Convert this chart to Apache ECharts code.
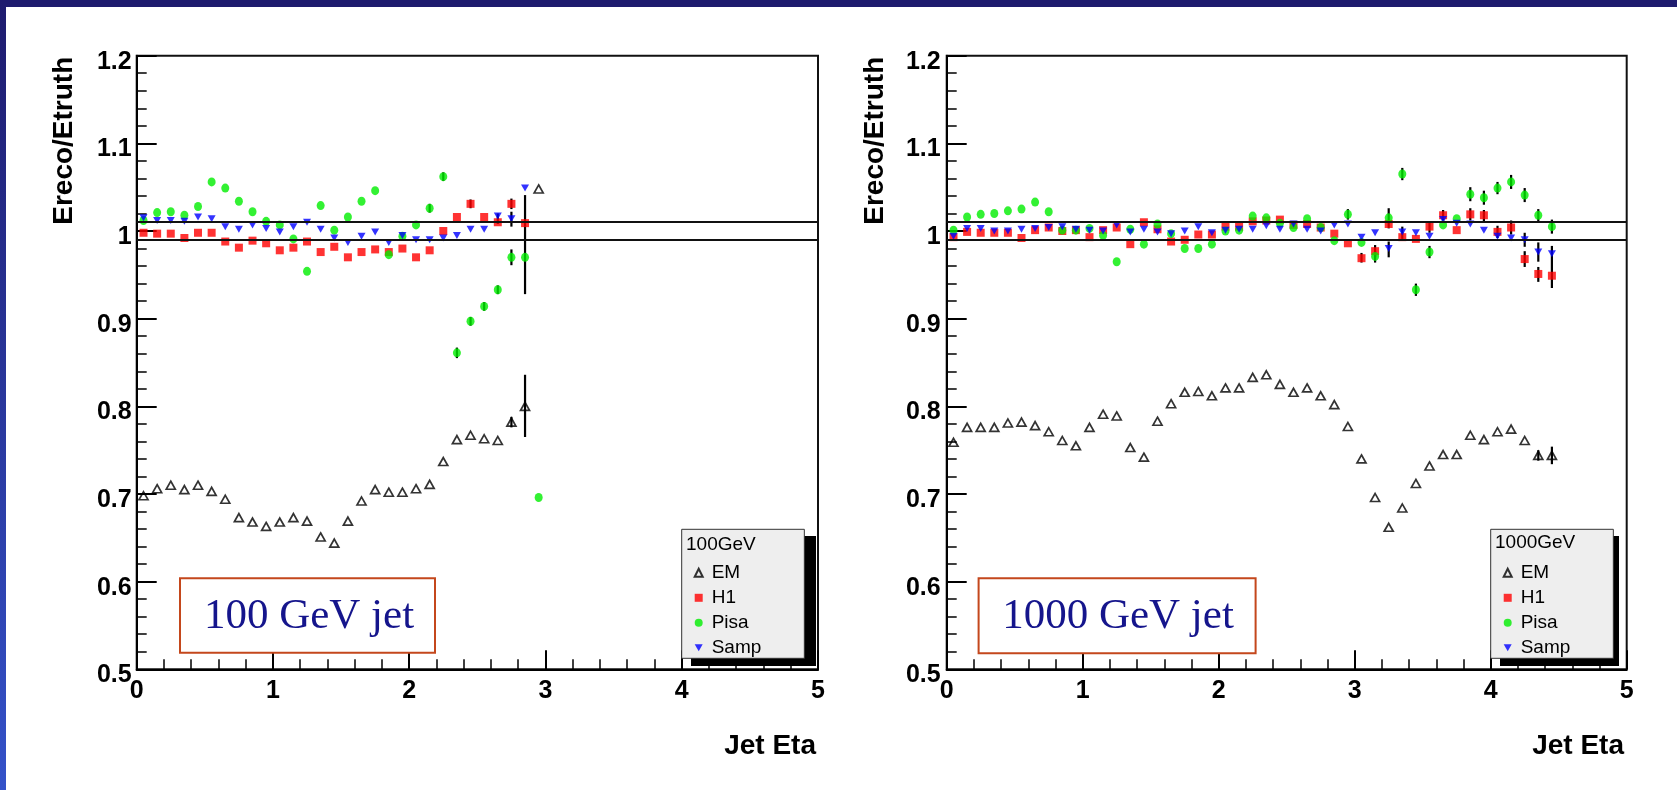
<!DOCTYPE html>
<html><head><meta charset="utf-8">
<script src="https://cdn.jsdelivr.net/npm/echarts@6/dist/echarts.min.js"></script>
<style>html,body{margin:0;padding:0;background:#fff;overflow:hidden}#c{width:1677px;height:790px}</style>
</head><body><div id="c"></div>
<script>
// ---------- data ----------
const seriesNames = ['EM', 'H1', 'Pisa', 'Samp'];
const xTicks = [0, 1, 2, 3, 4, 5];
const xTickLabels = ['0', '1', '2', '3', '4', '5'];
const yTicks = [0.5, 0.6, 0.7, 0.8, 0.9, 1.0, 1.1, 1.2];
const yTickLabels = ['0.5', '0.6', '0.7', '0.8', '0.9', '1', '1.1', '1.2'];
const refLines = [1.01, 0.99];

// 100 GeV panel
const eta100 = [0.05,0.15,0.25,0.35,0.45,0.55,0.65,0.75,0.85,0.95,1.05,1.15,1.25,1.35,1.45,1.55,1.65,1.75,1.85,1.95,2.05,2.15,2.25,2.35,2.45,2.55,2.65,2.75,2.85,2.95];
const em100   = [0.698,0.706,0.710,0.705,0.710,0.703,0.694,0.673,0.668,0.663,0.668,0.673,0.669,0.651,0.644,0.669,0.692,0.705,0.702,0.702,0.706,0.711,0.737,0.762,0.767,0.763,0.761,0.782,0.800,1.048];
const h1_100  = [0.998,0.997,0.997,0.992,0.998,0.998,0.988,0.981,0.989,0.986,0.978,0.981,0.988,0.976,0.982,0.970,0.976,0.979,0.976,0.980,0.970,0.978,1.000,1.016,1.031,1.016,1.010,1.031,1.009];
const pisa100 = [1.012,1.021,1.022,1.018,1.028,1.056,1.049,1.034,1.022,1.011,1.007,0.991,0.954,1.029,1.001,1.016,1.034,1.046,0.973,0.994,1.007,1.026,1.062,0.861,0.897,0.914,0.933,0.970,0.970,0.696];
const samp100 = [1.015,1.012,1.012,1.011,1.016,1.014,1.005,1.002,1.007,1.003,0.999,1.005,1.010,1.002,0.992,0.987,0.994,0.999,0.987,0.995,0.990,0.990,0.992,0.995,1.002,1.002,1.017,1.014,1.049];
// error bars: [eta, low, high]
const errBars100 = [
  [2.85,0.928,1.041],[2.85,0.765,0.836],[2.75,0.776,0.788],[2.75,0.961,0.979],
  [2.75,1.025,1.037],[2.75,1.005,1.022],[2.65,1.008,1.020],[2.35,0.855,0.867],
  [2.45,0.892,0.902],[2.55,0.909,0.919],[2.65,0.928,0.938],[2.25,1.057,1.067],
  [2.15,1.021,1.031],[2.45,1.026,1.036]
];

// 1000 GeV panel
const eta1000 = [0.05,0.15,0.25,0.35,0.45,0.55,0.65,0.75,0.85,0.95,1.05,1.15,1.25,1.35,1.45,1.55,1.65,1.75,1.85,1.95,2.05,2.15,2.25,2.35,2.45,2.55,2.65,2.75,2.85,2.95,3.05,3.15,3.25,3.35,3.45,3.55,3.65,3.75,3.85,3.95,4.05,4.15,4.25,4.35,4.45];
const em1000   = [0.759,0.776,0.776,0.776,0.781,0.782,0.778,0.771,0.761,0.755,0.776,0.791,0.789,0.753,0.742,0.783,0.803,0.816,0.817,0.812,0.821,0.821,0.833,0.836,0.825,0.816,0.821,0.812,0.802,0.777,0.740,0.696,0.662,0.684,0.712,0.732,0.745,0.745,0.767,0.762,0.771,0.774,0.761,0.744,0.744];
const h1_1000  = [0.993,0.999,0.998,0.998,0.998,0.992,1.001,1.004,1.000,1.001,0.993,1.001,1.004,0.985,1.010,1.002,0.988,0.990,0.996,0.996,1.005,1.005,1.011,1.012,1.013,1.007,1.008,1.004,0.997,0.986,0.969,0.977,1.008,0.993,0.991,1.005,1.018,1.001,1.019,1.018,0.999,1.004,0.968,0.951,0.949];
const pisa1000 = [1.001,1.016,1.019,1.020,1.023,1.025,1.033,1.022,1.001,1.001,1.003,0.995,0.965,1.002,0.985,1.008,0.997,0.980,0.980,0.985,1.000,1.001,1.017,1.015,1.009,1.004,1.014,1.004,0.989,1.019,0.987,0.971,1.015,1.065,0.933,0.976,1.007,1.014,1.042,1.038,1.049,1.056,1.041,1.018,1.005];
const samp1000 = [0.994,1.003,1.003,1.000,1.000,1.002,1.003,1.004,1.005,1.002,1.001,1.000,1.007,0.999,1.002,0.999,0.997,1.000,1.005,0.998,1.001,1.002,1.002,1.006,1.002,1.008,1.002,1.000,1.007,1.008,0.993,0.998,0.980,0.999,0.998,0.994,1.013,1.009,1.008,1.001,0.994,0.992,0.990,0.976,0.974];
const errBars1000 = [
  [2.95,1.013,1.025],[3.05,0.964,0.975],[3.15,0.970,0.984],[3.15,0.964,0.977],
  [3.25,1.003,1.026],[3.25,0.970,0.988],[3.35,1.058,1.072],[3.45,0.926,0.940],
  [3.55,0.969,0.983],[3.55,0.998,1.011],[3.65,1.012,1.024],[3.85,1.034,1.050],
  [3.85,1.012,1.026],[3.95,1.030,1.046],[3.95,1.011,1.024],[4.05,1.042,1.056],
  [4.05,0.992,1.006],[4.15,1.048,1.064],[4.15,0.996,1.012],[4.25,1.033,1.049],
  [4.25,0.982,0.998],[4.25,0.959,0.977],[4.35,0.965,0.987],[4.35,0.942,0.959],
  [4.35,1.011,1.025],[4.45,0.935,0.983],[4.45,0.997,1.013],[4.45,0.734,0.754],
  [4.35,0.738,0.750],[3.35,0.991,1.005]
];

const panelTitles = ['100GeV', '1000GeV'];
const boxTexts = ['100 GeV jet', '1000 GeV jet'];
const xTitle = 'Jet Eta';
const yTitle = 'Ereco/Etruth';

// ---------- chart ----------
const SANS = '"Liberation Sans", Arial, Helvetica, sans-serif';
const SERIF = '"Liberation Serif", "Times New Roman", serif';
const chart = echarts.init(document.getElementById('c'), null, {renderer: 'canvas'});

function pairs(xs, ys) { return ys.map((v, i) => [xs[i], v]); }

const grids = [
  {left: 136.7, top: 55.7, width: 681.3, height: 613.6},
  {left: 946.7, top: 55.7, width: 680, height: 613.6}
];

function xAxisFor(i) {
  return {
    gridIndex: i, type: 'value', min: 0, max: 5, interval: 1,
    axisLine: {show: true, onZero: false, lineStyle: {color: '#000', width: 2}},
    axisTick: {show: true, inside: true, length: 19, lineStyle: {color: '#000', width: 2}},
    minorTick: {show: true, splitNumber: 5, length: 10, lineStyle: {color: '#000', width: 1.5}},
    splitLine: {show: false}, minorSplitLine: {show: false},
    axisLabel: {
      margin: 9, color: '#000', fontSize: 25, fontWeight: 'bold', fontFamily: SANS,
      formatter: v => { const k = xTicks.findIndex(t => Math.abs(t - v) < 1e-6); return k >= 0 ? xTickLabels[k] : ''; }
    }
  };
}
function yAxisFor(i) {
  return {
    gridIndex: i, type: 'value', min: 0.5, max: 1.2, interval: 0.1,
    axisLine: {show: true, onZero: false, lineStyle: {color: '#000', width: 2}},
    axisTick: {show: true, inside: true, length: 20, lineStyle: {color: '#000', width: 2}},
    minorTick: {show: true, splitNumber: 5, length: 10, lineStyle: {color: '#000', width: 1.5}},
    splitLine: {show: false}, minorSplitLine: {show: false},
    axisLabel: {
      margin: i === 0 ? 5 : 6, color: '#000', fontSize: 25, fontWeight: 'bold', fontFamily: SANS,
      verticalAlign: 'top', lineHeight: 12,
      formatter: v => { const k = yTicks.findIndex(t => Math.abs(t - v) < 1e-6); return k >= 0 ? yTickLabels[k] : ''; }
    }
  };
}

const styles = {
  EM:   {symbol: 'triangle', symbolSize: [9, 8], symbolRotate: 0, itemStyle: {color: 'rgba(255,255,255,0)', borderColor: '#000', borderWidth: 1.7}},
  H1:   {symbol: 'rect', symbolSize: [8, 8], symbolRotate: 0, itemStyle: {color: '#ff0000'}},
  Pisa: {symbol: 'circle', symbolSize: [8, 9], symbolRotate: 0, itemStyle: {color: '#00ee00'}},
  Samp: {symbol: 'triangle', symbolSize: [8, 7], symbolRotate: 180, itemStyle: {color: '#0000ff'}}
};

function scatter(name, i, data) {
  const s = styles[name];
  return {
    name, type: 'scatter', xAxisIndex: i, yAxisIndex: i, data,
    symbol: s.symbol, symbolSize: s.symbolSize, symbolRotate: s.symbolRotate,
    itemStyle: s.itemStyle, silent: true, z: 3, animation: false
  };
}

function errSeries(i, data) {
  return {
    type: 'custom', xAxisIndex: i, yAxisIndex: i, data, silent: true, z: 2, animation: false,
    encode: {x: 0, y: [1, 2]},
    renderItem: (params, api) => {
      const a = api.coord([api.value(0), api.value(1)]);
      const b = api.coord([api.value(0), api.value(2)]);
      return {type: 'line', shape: {x1: a[0], y1: a[1], x2: b[0], y2: b[1]}, style: {stroke: '#000', lineWidth: 2.2}};
    }
  };
}

function refLineSeries(i) {
  return {
    type: 'line', xAxisIndex: i, yAxisIndex: i, data: [], silent: true, animation: false,
    markLine: {
      silent: true, symbol: ['none', 'none'], label: {show: false}, animation: false,
      lineStyle: {color: '#111', width: 2, type: 'solid'},
      data: refLines.map(v => ({yAxis: v}))
    }
  };
}

const series = [
  refLineSeries(0), errSeries(0, errBars100),
  scatter('EM', 0, pairs(eta100, em100)),
  scatter('H1', 0, pairs(eta100, h1_100)),
  scatter('Pisa', 0, pairs(eta100, pisa100)),
  scatter('Samp', 0, pairs(eta100, samp100)),
  refLineSeries(1), errSeries(1, errBars1000),
  scatter('EM', 1, pairs(eta1000, em1000)),
  scatter('H1', 1, pairs(eta1000, h1_1000)),
  scatter('Pisa', 1, pairs(eta1000, pisa1000)),
  scatter('Samp', 1, pairs(eta1000, samp1000))
];

function legendFor(left) {
  return {
    data: seriesNames.map(n => n === 'Samp' ? {name: n, icon: 'path://M0,0L10,0L5,8.7Z'} : {name: n}),
    orient: 'vertical', left: left, top: 529.3, z: 5,
    padding: [34, 43, 1, 12], itemWidth: 8, itemHeight: 8, itemGap: 6,
    backgroundColor: '#eeeeee', borderColor: '#333', borderWidth: 1, borderRadius: 0,
    selectedMode: false,
    textStyle: {fontSize: 19, fontFamily: SANS, color: '#000', padding: [0, 0, 0, 4]}
  };
}

const graphic = [
  {type: 'rect', shape: {x: 0, y: 0, width: 1677, height: 7}, style: {fill: '#1e1b6e'}, z: 50, silent: true},
  {type: 'rect', shape: {x: 0, y: 0, width: 6, height: 790}, silent: true, z: 50,
   style: {fill: new echarts.graphic.LinearGradient(0, 0, 0, 1, [{offset: 0, color: '#1e1b6e'}, {offset: 1, color: '#3452c9'}])}},
  // legend drop shadows
  {type: 'rect', shape: {x: 691, y: 536, width: 125, height: 130}, style: {fill: '#000'}, z: 3, silent: true},
  {type: 'rect', shape: {x: 1500, y: 536, width: 119, height: 130}, style: {fill: '#000'}, z: 3, silent: true},
  // axis titles
  {type: 'text', x: 64, y: 56.7, rotation: Math.PI / 2, z: 50, silent: true,
   style: {text: yTitle, font: 'bold 28px ' + SANS, fill: '#000', align: 'right', verticalAlign: 'middle'}},
  {type: 'text', x: 875, y: 56.7, rotation: Math.PI / 2, z: 50, silent: true,
   style: {text: yTitle, font: 'bold 28px ' + SANS, fill: '#000', align: 'right', verticalAlign: 'middle'}},
  {type: 'text', x: 816, y: 746, z: 50, silent: true,
   style: {text: xTitle, font: 'bold 28px ' + SANS, fill: '#000', align: 'right', verticalAlign: 'middle'}},
  {type: 'text', x: 1624, y: 746, z: 50, silent: true,
   style: {text: xTitle, font: 'bold 28px ' + SANS, fill: '#000', align: 'right', verticalAlign: 'middle'}},
  // annotation boxes
  {type: 'rect', shape: {x: 180, y: 578.3, width: 255, height: 74.4}, z: 1, silent: true,
   style: {fill: '#fff', stroke: '#c4471c', lineWidth: 2}},
  {type: 'text', x: 309, y: 616.7, z: 50, silent: true,
   style: {text: boxTexts[0], font: '43px ' + SERIF, fill: '#15158c', align: 'center', verticalAlign: 'middle'}},
  {type: 'rect', shape: {x: 978.6, y: 578.3, width: 277, height: 75}, z: 1, silent: true,
   style: {fill: '#fff', stroke: '#c4471c', lineWidth: 2}},
  {type: 'text', x: 1118, y: 616.7, z: 50, silent: true,
   style: {text: boxTexts[1], font: '43px ' + SERIF, fill: '#15158c', align: 'center', verticalAlign: 'middle'}},
  // legend headers
  {type: 'text', x: 686, y: 545, z: 100, silent: true,
   style: {text: panelTitles[0], font: '19px ' + SANS, fill: '#000', align: 'left', verticalAlign: 'middle'}},
  {type: 'text', x: 1495, y: 543, z: 100, silent: true,
   style: {text: panelTitles[1], font: '19px ' + SANS, fill: '#000', align: 'left', verticalAlign: 'middle'}}
];

chart.setOption({
  animation: false,
  backgroundColor: '#ffffff',
  grid: grids.map(g => Object.assign({show: true, borderColor: '#111', borderWidth: 2, backgroundColor: 'rgba(0,0,0,0)', containLabel: false}, g)),
  xAxis: [xAxisFor(0), xAxisFor(1)],
  yAxis: [yAxisFor(0), yAxisFor(1)],
  legend: [legendFor(681.7), legendFor(1490.7)],
  series,
  graphic
});
</script>
</body></html>
